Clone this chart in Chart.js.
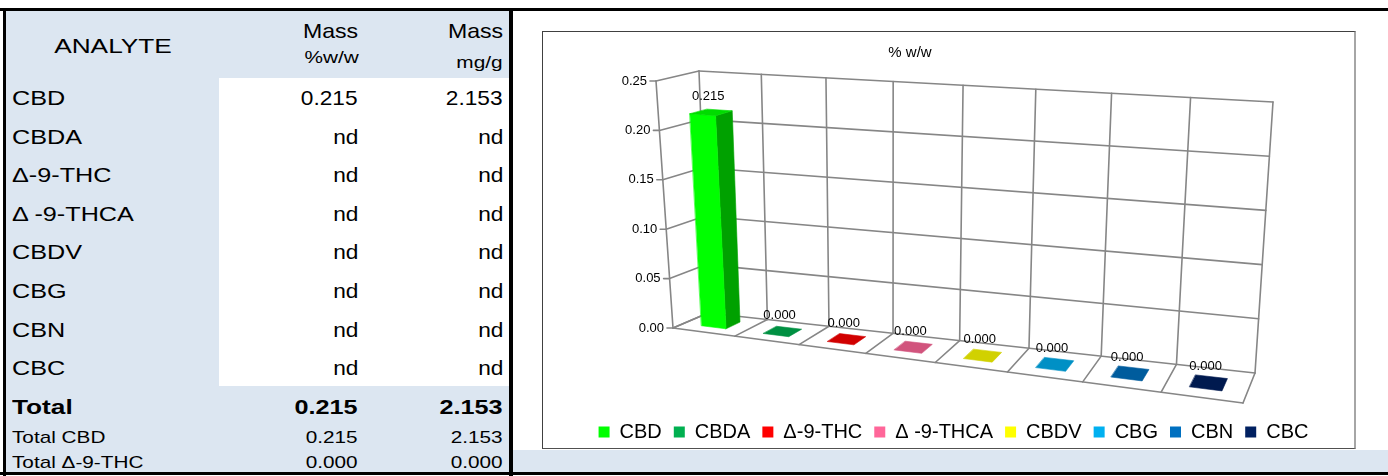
<!DOCTYPE html>
<html><head><meta charset="utf-8">
<script src="https://cdn.jsdelivr.net/npm/chart.js@4/dist/chart.umd.min.js"></script>
<style>
html,body{margin:0;padding:0;background:#fff;width:1388px;height:476px;overflow:hidden;font-family:"Liberation Sans",Arial,sans-serif;}
#page{position:relative;width:1388px;height:476px;}
.abs{position:absolute;}
.t{position:absolute;white-space:nowrap;color:#000;}
</style></head><body>
<div id="page">
  <div class="abs" style="left:5px;top:11px;width:504px;height:461px;background:#dce6f1"></div>
  <div class="abs" style="left:219px;top:78px;width:290px;height:308px;background:#fff"></div>
  <div class="abs" style="left:513px;top:450px;width:875px;height:22px;background:#dce6f1"></div>
  <div class="abs" style="left:0;top:8px;width:1388px;height:3px;background:#000"></div>
  <div class="abs" style="left:3px;top:8px;width:3px;height:468px;background:#000"></div>
  <div class="abs" style="left:509px;top:8px;width:4px;height:468px;background:#000"></div>
  <div class="abs" style="left:0;top:472px;width:1388px;height:3px;background:#000"></div>
  <div class="abs" style="left:542px;top:31px;width:811px;height:416px;border-left:1px solid #404040;border-top:1px solid #404040;border-bottom:1px solid #505050;border-right:2px solid #a6a6a6;background:#fff">
    <canvas id="c" width="811" height="416" style="display:block;width:811px;height:416px"></canvas>
  </div>
  <div id="tbl"></div>
</div>
<script>
// ---- data ----
const categories = ['CBD', 'CBDA', 'Δ-9-THC', 'Δ -9-THCA', 'CBDV', 'CBG', 'CBN', 'CBC'];
const pctValues  = [0.215, 0, 0, 0, 0, 0, 0, 0];      // Mass %w/w
const mgValues   = [2.153, 0, 0, 0, 0, 0, 0, 0];      // Mass mg/g
const barColors  = ['#00FF00', '#00B050', '#FF0000', '#FF6699', '#FFFF00', '#00B0F0', '#0070C0', '#002060'];
const yTicks     = [0, 0.05, 0.10, 0.15, 0.20, 0.25];
const totalLabels = ['Total', 'Total CBD', 'Total Δ-9-THC'];
const totalPct    = [0.215, 0.215, 0.000];
const totalMg     = [2.153, 2.153, 0.000];
const chartTitle  = '% w/w';

// ---- table ----
const tbl = document.getElementById('tbl');
function addText(str, x, yc, size, align, opts) {
  opts = opts || {};
  const sx = opts.sx || 1.2;
  const el = document.createElement('div');
  el.className = 't';
  el.textContent = str;
  el.style.fontSize = size + 'px';
  el.style.lineHeight = size + 'px';
  el.style.top = (yc - 0.49 * size) + 'px';
  if (opts.bold) el.style.fontWeight = 'bold';
  if (align === 'left') { el.style.left = x + 'px'; el.style.transformOrigin = 'left center'; el.style.transform = 'scaleX(' + sx + ')'; }
  else if (align === 'right') { el.style.right = (1388 - x) + 'px'; el.style.transformOrigin = 'right center'; el.style.transform = 'scaleX(' + sx + ')'; }
  else { el.style.left = x + 'px'; el.style.transformOrigin = 'center center'; el.style.transform = 'translateX(-50%) scaleX(' + sx + ')'; }
  tbl.appendChild(el);
}
const COL_LABEL = 12, COL_PCT = 358, COL_MG = 503;
addText('ANALYTE', 113, 45, 21, 'center', {sx: 1.25});
addText('Mass', COL_PCT, 30, 21, 'right', {sx: 1.1});
addText('%w/w', COL_PCT + 1, 58, 16, 'right', {sx: 1.3});
addText('Mass', COL_MG, 30, 21, 'right', {sx: 1.1});
addText('mg/g', COL_MG, 63, 16, 'right', {sx: 1.3});
const ROW0 = 78, ROWH = 38.6;
const fmt = v => v > 0 ? v.toFixed(3) : 'nd';
categories.forEach((name, i) => {
  const yc = ROW0 + ROWH * (i + 0.5);
  addText(name, COL_LABEL, yc, 21, 'left', {sx: 1.2});
  addText(fmt(pctValues[i]), COL_PCT, yc, 21, 'right', {sx: 1.08});
  addText(fmt(mgValues[i]), COL_MG, yc, 21, 'right', {sx: 1.08});
});
const totalY = [406, 437, 462];
totalLabels.forEach((name, i) => {
  const big = i === 0;
  const size = big ? 21 : 17;
  addText(name, COL_LABEL, totalY[i], size, 'left', {bold: big, sx: big ? 1.25 : 1.22});
  addText(totalPct[i].toFixed(3), COL_PCT, totalY[i], size, 'right', {bold: big, sx: big ? 1.2 : 1.22});
  addText(totalMg[i].toFixed(3), COL_MG, totalY[i], size, 'right', {bold: big, sx: big ? 1.2 : 1.22});
});

// ---- 3D projection frame (canvas space corners of the plot box) ----
const FRAME = {
  FLB: [130, 296], FLT: [113, 49], FRB: [700, 371], FRT: [718, 94],
  BLB: [165, 281], BLT: [156, 39], BRB: [712, 341], BRT: [730, 70]
};
const PERSP = 0.852, D0 = 0.30, D1 = 0.72;
const lerp = (p, q, s) => [p[0] + (q[0] - p[0]) * s, p[1] + (q[1] - p[1]) * s];
function P(c, v, d) {
  const t = c * PERSP / (1 - c + c * PERSP);
  const fb = lerp(FRAME.FLB, FRAME.FRB, t), ft = lerp(FRAME.FLT, FRAME.FRT, t);
  const bb = lerp(FRAME.BLB, FRAME.BRB, t), bt = lerp(FRAME.BLT, FRAME.BRT, t);
  return lerp(lerp(fb, ft, v), lerp(bb, bt, v), d);
}
function shade(hex, f) {
  const n = parseInt(hex.slice(1), 16);
  return 'rgb(' + Math.round(((n >> 16) & 255) * f) + ',' + Math.round(((n >> 8) & 255) * f) + ',' + Math.round((n & 255) * f) + ')';
}
const FONT = '"Liberation Sans", Arial, sans-serif';

const perspective3D = {
  id: 'perspective3D',
  beforeDatasetsDraw(chart) {
    const {ctx, chartArea: a, scales: {x: xs, y: ys}} = chart;
    const W = a.right - a.left, H = a.bottom - a.top;
    const nc = px => (px - a.left) / W;
    const nv = val => (a.bottom - ys.getPixelForValue(val)) / H;
    ctx.save();
    ctx.strokeStyle = '#868686'; ctx.lineWidth = 1.6; ctx.lineCap = 'round';
    const seg = (p, q) => { ctx.beginPath(); ctx.moveTo(p[0], p[1]); ctx.lineTo(q[0], q[1]); ctx.stroke(); };
    // value gridlines: back wall + left wall + tick marks
    yTicks.forEach(t => {
      const v = nv(t);
      seg(P(0, v, 1), P(1, v, 1));
      seg(P(0, v, 0), P(0, v, 1));
      const f = P(0, v, 0);
      seg([f[0] - 6, f[1]], f);
    });
    // category boundaries: back wall verticals + floor dividers
    const n = categories.length;
    for (let k = 0; k <= n; k++) {
      const c = nc(xs.getPixelForValue(k - 0.5));
      seg(P(c, 0, 1), P(c, 1, 1));
      seg(P(c, 0, 0), P(c, 0, 1));
    }
    seg(P(0, 0, 0), P(0, 1, 0));
    seg(P(0, 0, 0), P(1, 0, 0));
    // tick labels
    ctx.fillStyle = '#000'; ctx.font = '13px ' + FONT; ctx.textAlign = 'right'; ctx.textBaseline = 'middle';
    yTicks.forEach(t => { const f = P(0, nv(t), 0); ctx.fillText(t.toFixed(2), f[0] - 9, f[1]); });
    // bars
    const meta = chart.getDatasetMeta(0);
    const poly = (pts, fill) => {
      ctx.beginPath(); ctx.moveTo(pts[0][0], pts[0][1]);
      for (let i = 1; i < pts.length; i++) ctx.lineTo(pts[i][0], pts[i][1]);
      ctx.closePath(); ctx.fillStyle = fill; ctx.strokeStyle = fill; ctx.lineWidth = 0.6; ctx.fill(); ctx.stroke();
    };
    const labels = [];
    meta.data.forEach((el, i) => {
      const {x, y, base, width} = el.getProps(['x', 'y', 'base', 'width'], true);
      const c0 = nc(x - width / 2), c1 = nc(x + width / 2);
      const vb = (a.bottom - base) / H, vt = (a.bottom - y) / H;
      const col = barColors[i];
      if (vt - vb > 0.001) {
        poly([P(c1, vb, D0), P(c1, vb, D1), P(c1, vt, D1), P(c1, vt, D0)], shade(col, 0.63));
        poly([P(c0, vb, D0), P(c1, vb, D0), P(c1, vt, D0), P(c0, vt, D0)], col);
        poly([P(c0, vt, D0), P(c1, vt, D0), P(c1, vt, D1), P(c0, vt, D1)], shade(col, 0.86));
      } else {
        poly([P(c0, vt, D0), P(c1, vt, D0), P(c1, vt, D1), P(c0, vt, D1)], shade(col, 0.82));
      }
      const m = P((c0 + c1) / 2, vt, (D0 + D1) / 2);
      labels.push([pctValues[i].toFixed(3), m[0] - 3, m[1] - 16]);
    });
    ctx.fillStyle = '#000'; ctx.font = '13px ' + FONT; ctx.textAlign = 'center'; ctx.textBaseline = 'middle';
    labels.forEach(l => ctx.fillText(l[0], l[1], l[2]));
    // title
    ctx.font = '15px ' + FONT;
    ctx.fillText(chartTitle, 367, 21);
    ctx.restore();
    return false;
  }
};

new Chart(document.getElementById('c'), {
  type: 'bar',
  data: {
    labels: categories,
    datasets: [{label: chartTitle, data: pctValues, backgroundColor: barColors, categoryPercentage: 1, barPercentage: 0.4}]
  },
  options: {
    responsive: false, animation: false, devicePixelRatio: 1,
    layout: {padding: {top: 10, left: 10, right: 0, bottom: -4}},
    scales: {
      x: {display: false},
      y: {display: false, min: 0, max: 0.25, ticks: {stepSize: 0.05}}
    },
    plugins: {
      tooltip: {enabled: false},
      title: {display: false},
      legend: {
        position: 'bottom',
        labels: {
          boxWidth: 11, boxHeight: 11, padding: 12, color: '#000',
          font: {size: 20, family: FONT},
          generateLabels(chart) {
            const ds = chart.data.datasets[0];
            return chart.data.labels.map((l, i) => ({text: l, fillStyle: ds.backgroundColor[i], strokeStyle: ds.backgroundColor[i], lineWidth: 0, hidden: false, index: i, fontColor: '#000'}));
          }
        }
      }
    }
  },
  plugins: [perspective3D]
});
</script>
</body></html>
